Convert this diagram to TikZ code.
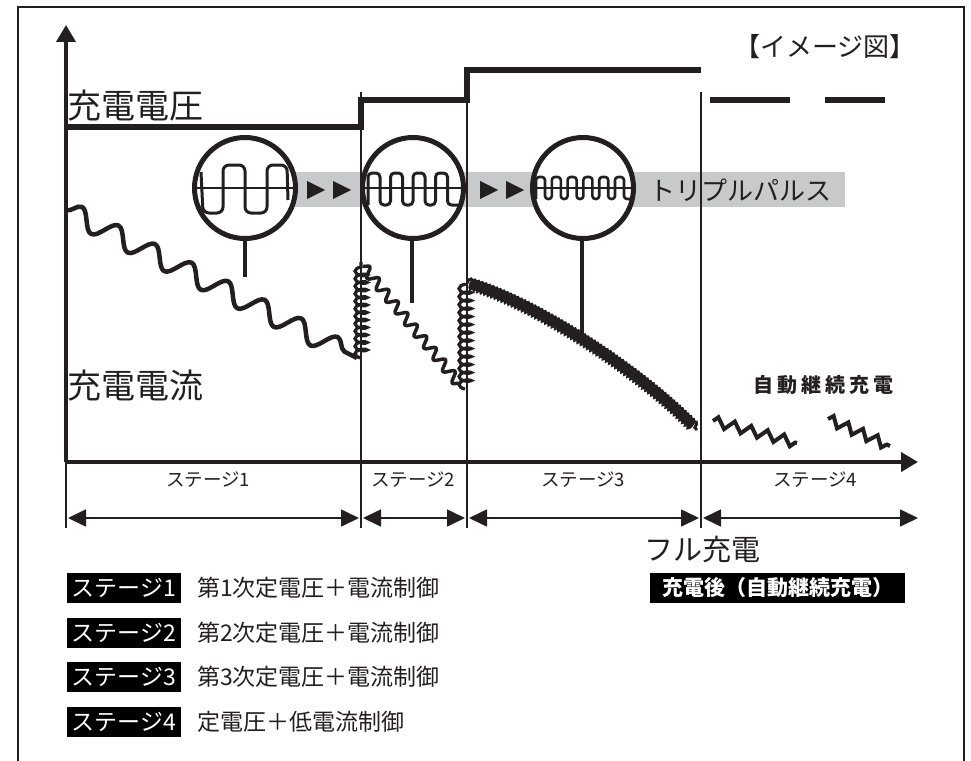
\documentclass[tikz,border=0pt]{standalone}
\usepackage{fontspec}
\setmainfont{Noto Sans CJK JP}
\usetikzlibrary{decorations.pathmorphing,arrows.meta}
\definecolor{ink}{RGB}{35,31,32}
\definecolor{band}{RGB}{200,201,203}
\tikzset{
  lbl/.style={inner sep=0pt, outer sep=0pt, text=ink},
  axisline/.style={draw=ink, line width=4pt, -{Triangle[length=17pt,width=19pt]}},
  stageline/.style={draw=ink, line width=2.2pt},
  volt/.style={draw=ink, line width=6pt, line cap=butt, line join=miter},
  pulsecircle/.style={circle, draw=ink, line width=5pt, fill=white, minimum size=101pt, inner sep=0pt},
  wave/.style={draw=ink, line width=3pt, line join=round},
  stem/.style={draw=ink, line width=4pt},
  dimarrow/.style={draw=ink, line width=1.6pt, {Triangle[length=18pt,width=17pt]}-{Triangle[length=18pt,width=17pt]}},
  legendbox/.style={fill=black, text=white, minimum width=114pt, minimum height=30pt, inner sep=0pt, font=\fontsize{23}{23}\selectfont},
  legendtext/.style={lbl, anchor=west, font=\fontsize{23}{23}\selectfont},
  stagelabel/.style={lbl, font=\fontsize{18.5}{18.5}\selectfont},
  bigjp/.style={lbl, anchor=west, font=\fontsize{34}{34}\selectfont},
}
\begin{document}
\begin{tikzpicture}[x=1pt,y=-1pt]
\useasboundingbox (0,0) rectangle (971,760);
\fill[white] (0,0) rectangle (971,760);
\clip (0,0) rectangle (971,760);
\draw[ink, line width=1.5pt] (18,7) rectangle (964,790);

% key coordinates
\coordinate (O) at (66,462);
\coordinate (ytop) at (66,25);
\coordinate (xend) at (918,462);
\coordinate (t0b) at (66,528);
\foreach \n/\x in {1/361,2/467,3/701}{
  \coordinate (t\n a) at (\x,92);
  \coordinate (t\n b) at (\x,528);
}

% gray band and pulse arrows
\fill[band] (245,172) rectangle (845,207);
\foreach \x in {307,333,480,506}
  \fill[ink] (\x,181) -- (\x+18,190) -- (\x,199) -- cycle;

% stage boundary lines
\draw[stageline] (O) -- (t0b);
\foreach \n in {1,2,3} \draw[stageline] (t\n a) -- (t\n b);

% axes
\draw[axisline] (O) -- (ytop);
\draw[axisline] (O) -- (xend);

% charge voltage
\coordinate (v0) at (66,127);
\coordinate (v1) at (361,127);
\coordinate (v2) at (361,100);
\coordinate (v3) at (467,100);
\coordinate (v4) at (467,70);
\coordinate (v5) at (701,70);
\draw[volt] (v0) -- (v1) -- (v2) -- (v3) -- (v4) -- (v5);
\coordinate (d1a) at (710,100); \coordinate (d1b) at (790,100);
\coordinate (d2a) at (825,100); \coordinate (d2b) at (885,100);
\draw[volt] (d1a) -- (d1b);
\draw[volt] (d2a) -- (d2b);

% current curves
\coordinate (s1a) at (66,210);
\coordinate (s1b) at (357,358);
\draw[draw=ink, line width=4.5pt, line join=round, decorate,
  decoration={snake, segment length=41pt, amplitude=10pt}] (s1a) -- (s1b);
\coordinate (c2a) at (361,358);
\coordinate (c2b) at (361,262);
\draw[draw=ink, line width=3.2pt, decorate,
  decoration={coil, segment length=7.5pt, amplitude=6pt, aspect=0.4}] (c2a) -- (c2b);
\coordinate (s2a) at (363,266);
\coordinate (s2b) at (460,385);
\draw[draw=ink, line width=3.5pt, line join=round, decorate,
  decoration={snake, segment length=15pt, amplitude=5pt}] (s2a) -- (s2b);
\coordinate (c3a) at (465,389);
\coordinate (c3b) at (465,283);
\draw[draw=ink, line width=3.2pt, decorate,
  decoration={coil, segment length=8pt, amplitude=6pt, aspect=0.4}] (c3a) -- (c3b);
\coordinate (s3a) at (467,283);
\coordinate (s3b) at (697,430);
\draw[draw=ink, line width=2.9pt, decorate,
  decoration={coil, segment length=3.8pt, amplitude=5pt, aspect=0.4}]
  (s3a) .. controls (530,300) and (640,370) .. (s3b);
\coordinate (z1a) at (713,421);
\coordinate (z1b) at (797,443);
\coordinate (z2a) at (828,419);
\coordinate (z2b) at (890,446);
\draw[draw=ink, line width=4pt, decorate,
  decoration={zigzag, segment length=17pt, amplitude=5pt}] (z1a) -- (z1b);
\draw[draw=ink, line width=4pt, decorate,
  decoration={zigzag, segment length=16pt, amplitude=5pt}] (z2a) -- (z2b);

% pulse circles
\node[pulsecircle] (c1) at (245,188) {};
\node[pulsecircle] (c2) at (413,188) {};
\node[pulsecircle] (c3) at (583,188) {};
\foreach \c in {c1,c2,c3}
  \draw[draw=ink, line width=1.8pt] ([xshift=3pt]\c.west) -- ([xshift=-3pt]\c.east);
\draw[wave, rounded corners=6pt] (201,172) -- (203,213) -- (223,213) -- (223,165) -- (245,165) -- (245,213) -- (267,213) -- (267,165) -- (287,165) -- (288,200);
\draw[wave, rounded corners=4pt] (368,205)
  \foreach \i in {1,...,4}{ -- ++(0,-32) -- ++(12,0) -- ++(0,32) -- ++(10.5,0) };
\draw[wave, line width=2.6pt, rounded corners=3pt] (536,199)
  \foreach \i in {1,...,6}{ -- ++(0,-22) -- ++(9,0) -- ++(0,22) -- ++(6.8,0) };

% stems
\coordinate (p1) at (245,277);
\coordinate (p2) at (412,303);
\coordinate (p3) at (582,337);
\draw[stem] (c1.south) -- (p1);
\draw[stem] ([xshift=-1pt]c2.south) -- (p2);
\draw[stem] ([xshift=-1pt]c3.south) -- (p3);

% texts
\node[bigjp] (vlabel) at (67,106) {充電電圧};
\node[bigjp] (ilabel) at (67,386) {充電電流};
\node[lbl, anchor=west, font=\fontsize{26}{26}\selectfont] (triple) at (649,190) {トリプルパルス};
\node[lbl, font=\fontsize{26}{26}\selectfont] (image) at (825,47) {【イメージ図】};
\node[lbl, font=\bfseries\fontsize{20}{20}\selectfont] (auto) at (823,385)
  {自\hspace{4pt}動\hspace{4pt}継\hspace{4pt}続\hspace{4pt}充\hspace{4pt}電};

% stage labels and dimension arrows
\node[stagelabel] (st1) at (208,480) {ステージ1};
\node[stagelabel] (st2) at (413,480) {ステージ2};
\node[stagelabel] (st3) at (583,480) {ステージ3};
\node[stagelabel] (st4) at (815,480) {ステージ4};
\coordinate (a0) at (68,518);
\coordinate (a1l) at (359,518); \coordinate (a1r) at (363,518);
\coordinate (a2l) at (465,518); \coordinate (a2r) at (469,518);
\coordinate (a3l) at (699,518); \coordinate (a3r) at (703,518);
\coordinate (a4) at (918,518);
\draw[dimarrow] (a0) -- (a1l);
\draw[dimarrow] (a1r) -- (a2l);
\draw[dimarrow] (a2r) -- (a3l);
\draw[dimarrow] (a3r) -- (a4);

\node[lbl, anchor=west, font=\fontsize{29}{29}\selectfont] (full) at (644,549) {フル充電};
\node[fill=black, text=white, minimum width=255pt, minimum height=30pt, inner sep=0pt,
  font=\bfseries\fontsize{21}{21}\selectfont] (after) at (777.5,588) {充電後（自動継続充電）};

% legend
\node[legendbox] (L1) at (124,588) {ステージ1};
\node[legendbox] (L2) at (124,632.5) {ステージ2};
\node[legendbox] (L3) at (124,677) {ステージ3};
\node[legendbox] (L4) at (124,721.5) {ステージ4};
\node[legendtext] (D1) at (197,588) {第1次定電圧＋電流制御};
\node[legendtext] (D2) at (197,632.5) {第2次定電圧＋電流制御};
\node[legendtext] (D3) at (197,677) {第3次定電圧＋電流制御};
\node[legendtext] (D4) at (197,721.5) {定電圧＋低電流制御};
\end{tikzpicture}
\end{document}
